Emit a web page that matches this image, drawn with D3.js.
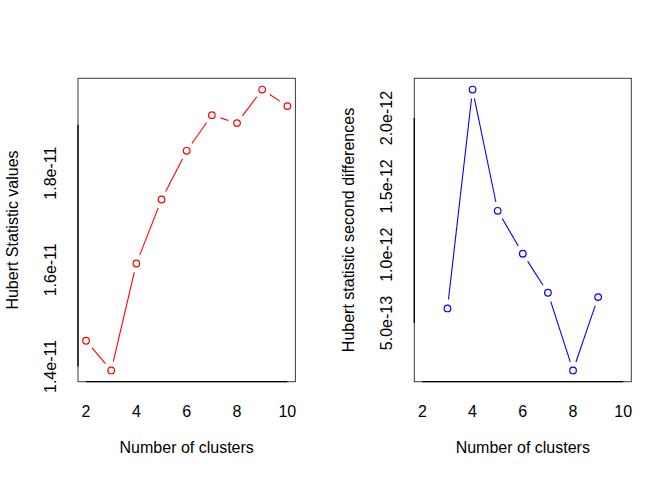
<!DOCTYPE html>
<html>
<head>
<meta charset="utf-8">
<script src="https://cdn.jsdelivr.net/npm/d3@7"></script>
<style>
  html, body { margin: 0; padding: 0; background: #fff; }
  svg text { font-family: "Liberation Sans", Arial, Helvetica, sans-serif; font-size: 16px; fill: #000; }
</style>
</head>
<body>
<svg id="chart" width="672" height="480"></svg>
<script>
// ---- data ----
const clustersLeft = [2, 3, 4, 5, 6, 7, 8, 9, 10];
const hubertValues = [1.4532e-11, 1.3917e-11, 1.6131e-11, 1.7455e-11, 1.8463e-11, 1.9201e-11, 1.9036e-11, 1.9731e-11, 1.9388e-11];

const clustersRight = [3, 4, 5, 6, 7, 8, 9];
const hubertSecondDiff = [0.607e-12, 2.209e-12, 1.3215e-12, 1.007e-12, 0.7217e-12, 0.153e-12, 0.690e-12];

const xTicks = [2, 4, 6, 8, 10];
const xLimits = [2, 10];

const leftYTicks = [1.4e-11, 1.5e-11, 1.6e-11, 1.7e-11, 1.8e-11, 1.9e-11];
const leftYTickLabels = ["1.4e-11", "", "1.6e-11", "", "1.8e-11", ""];

const rightYTicks = [0.5e-12, 1.0e-12, 1.5e-12, 2.0e-12];
const rightYTickLabels = ["5.0e-13", "1.0e-12", "1.5e-12", "2.0e-12"];

const xTitle = "Number of clusters";
const leftYTitle = "Hubert Statistic values";
const rightYTitle = "Hubert statistic second differences";

// ---- drawing ----
const svg = d3.select("#chart");

function extend(ext) {
  const d = (ext[1] - ext[0]) * 0.04;
  return [ext[0] - d, ext[1] + d];
}

function panel(opts) {
  const { left, right, top, bottom, xs, ys, color, yTicks, yLabels, yTitle } = opts;
  const g = svg.append("g");
  const x = d3.scaleLinear().domain(extend(xLimits)).range([left, right]);
  const y = d3.scaleLinear().domain(extend(d3.extent(ys))).range([bottom, top]);

  // box
  g.append("rect")
    .attr("x", left).attr("y", top)
    .attr("width", right - left).attr("height", bottom - top)
    .attr("fill", "none").attr("stroke", "#3a3a3a").attr("stroke-width", 1);

  // x axis line + labels
  g.append("line")
    .attr("x1", x(xTicks[0])).attr("x2", x(xTicks[xTicks.length - 1]))
    .attr("y1", bottom).attr("y2", bottom)
    .attr("stroke", "#000").attr("stroke-width", 1.3);
  g.selectAll(".xl").data(xTicks).enter().append("text")
    .attr("x", d => x(d)).attr("y", bottom + 35)
    .attr("text-anchor", "middle").text(d => d);
  g.append("text")
    .attr("x", (left + right) / 2).attr("y", bottom + 71.5)
    .attr("text-anchor", "middle").text(xTitle);

  // y axis line + labels
  g.append("line")
    .attr("x1", left).attr("x2", left)
    .attr("y1", y(yTicks[0])).attr("y2", y(yTicks[yTicks.length - 1]))
    .attr("stroke", "#000").attr("stroke-width", 1.3);
  g.selectAll(".yl").data(yTicks).enter().append("text")
    .attr("transform", d => `translate(${left - 22.5},${y(d)}) rotate(-90)`)
    .attr("text-anchor", "middle").text((d, i) => yLabels[i]);
  g.append("text")
    .attr("transform", `translate(${left - 60.5},${(top + bottom) / 2}) rotate(-90)`)
    .attr("text-anchor", "middle").text(yTitle);

  // gapped lines (type = "b")
  const pts = xs.map((k, i) => [x(k), y(ys[i])]);
  const gap = 9;
  for (let i = 0; i < pts.length - 1; i++) {
    const [x0, y0] = pts[i], [x1, y1] = pts[i + 1];
    const dx = x1 - x0, dy = y1 - y0;
    const len = Math.hypot(dx, dy);
    if (len <= 2 * gap) continue;
    const ux = dx / len, uy = dy / len;
    g.append("line")
      .attr("x1", x0 + ux * gap).attr("y1", y0 + uy * gap)
      .attr("x2", x1 - ux * gap).attr("y2", y1 - uy * gap)
      .attr("stroke", color).attr("stroke-width", 1.1);
  }
  g.selectAll(".pt").data(pts).enter().append("circle")
    .attr("cx", d => d[0]).attr("cy", d => d[1]).attr("r", 3.3)
    .attr("fill", "none").attr("stroke", color).attr("stroke-width", 1.2);
}

panel({
  left: 78, right: 295.4, top: 78.3, bottom: 381.7,
  xs: clustersLeft, ys: hubertValues, color: "#ff0000",
  yTicks: leftYTicks, yLabels: leftYTickLabels, yTitle: leftYTitle
});
panel({
  left: 414.3, right: 631.3, top: 78.3, bottom: 381.7,
  xs: clustersRight, ys: hubertSecondDiff, color: "#0000ff",
  yTicks: rightYTicks, yLabels: rightYTickLabels, yTitle: rightYTitle
});
</script>
</body>
</html>
